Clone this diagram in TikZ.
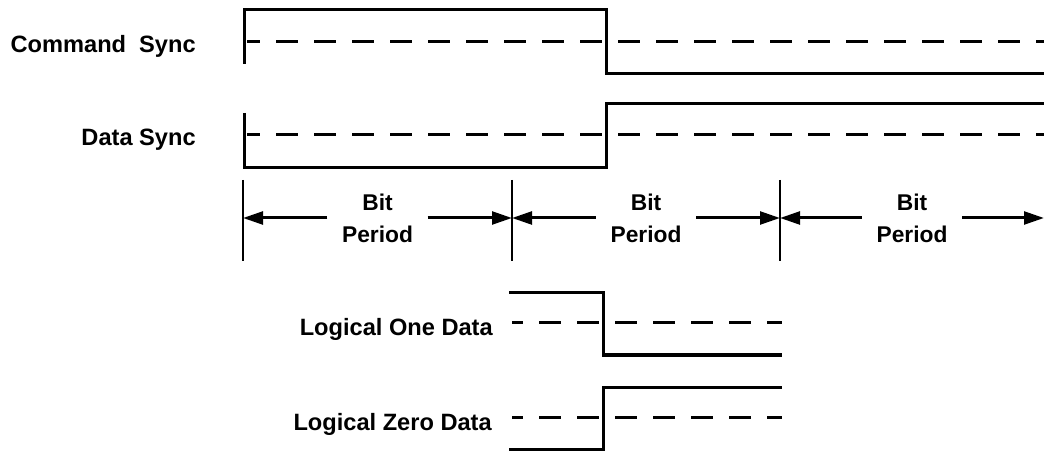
\documentclass[tikz,border=0pt]{standalone}
\usepackage{fontspec}
\setmainfont{Liberation Sans}
\usetikzlibrary{positioning,arrows.meta,calc}

\tikzset{
  sig/.style={line width=0.075cm},
  mid/.style={line width=0.075cm, dash pattern=on 0.55cm off 0.4cm, dash phase=0.225cm},
  tick/.style={line width=0.035cm},
  per/.style={line width=0.075cm, -{Triangle[length=0.5cm,width=0.32cm]}},
  lbl/.style={anchor=base east, inner sep=0pt, font=\bfseries\fontsize{16.8}{20}\selectfont},
  bit/.style={align=center, inner xsep=0.36cm, inner ysep=0pt, font=\bfseries\fontsize{16.2}{22.8}\selectfont}
}

\begin{document}
\begin{tikzpicture}[x=0.025cm, y=-0.025cm]

    \useasboundingbox (0,0) rectangle (1044,451);

    % labels
    \node[lbl] (CS) at (196,53) {Command~ Sync};
    \node[lbl] (DS) at (196,146) {Data Sync};
    \node[lbl] (L1) at (493,336) {Logical One Data};
    \node[lbl] (L0) at (492,430) {Logical Zero Data};

    % command sync / data sync
    \draw[sig] (244,64) -- (244,10) -- (606,10) -- (606,74) -- (1044,74);
    \draw[mid] (247,42) -- (1044,42);
    \draw[sig] (244,113) -- (244,168) -- (606,168) -- (606,104) -- (1044,104);
    \draw[mid] (247,135) -- (1044,135);

    % bit periods
    \coordinate (t0) at (243,218);
    \coordinate (t1) at (512,218);
    \coordinate (t2) at (780,218);
    \coordinate (t3) at (1044,218);
    \foreach \t in {t0,t1,t2}
        \draw[tick] ($(\t)+(0,-38)$) -- ($(\t)+(0,43)$);

    \node[bit] (P1) at ($(t0)!0.5!(t1)$) {Bit\\Period};
    \node[bit] (P2) at ($(t1)!0.5!(t2)$) {Bit\\Period};
    \node[bit] (P3) at ($(t2)!0.5!(t3)$) {Bit\\Period};
    \draw[per] (P1.west) -- (t0);
    \draw[per] (P1.east) -- (t1);
    \draw[per] (P2.west) -- (t1);
    \draw[per] (P2.east) -- (t2);
    \draw[per] (P3.west) -- (t2);
    \draw[per] (P3.east) -- (t3);

    % logical one / zero
    \draw[sig] (509,293) -- (603,293) -- (603,355) -- (782,355);
    \draw[mid, dash phase=0.275cm] (512,323) -- (782,323);
    \draw[sig] (509,449) -- (603,449) -- (603,387) -- (782,387);
    \draw[mid, dash phase=0.275cm] (512,417) -- (782,417);

\end{tikzpicture}
\end{document}
